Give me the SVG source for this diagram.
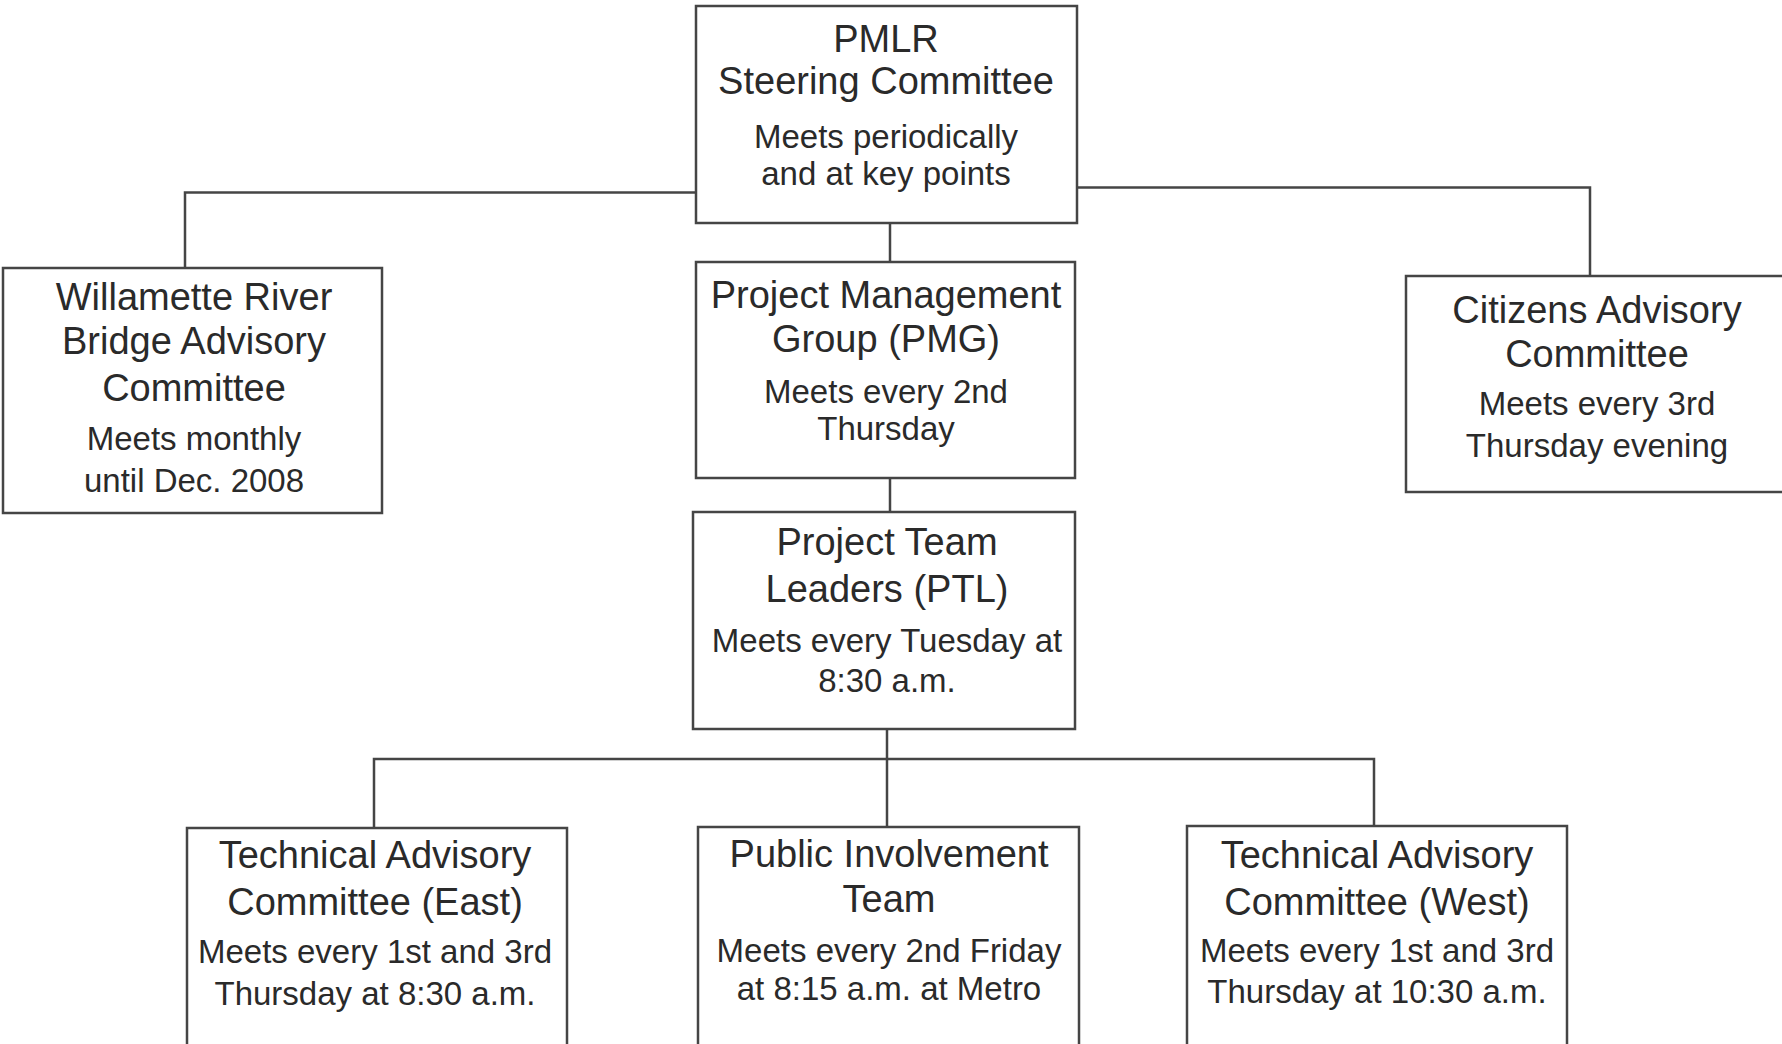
<svg xmlns="http://www.w3.org/2000/svg" width="1782" height="1044" viewBox="0 0 1782 1044">
  <style>
    .box { fill: #ffffff; stroke: #454545; stroke-width: 2.5; }
    .conn { fill: none; stroke: #454545; stroke-width: 2.5; }
    .t { font-family: "Liberation Sans", Arial, sans-serif; font-size: 38px; fill: #2a2a2a; text-anchor: middle; }
    .s { font-family: "Liberation Sans", Arial, sans-serif; font-size: 33px; fill: #2a2a2a; text-anchor: middle; }
  </style>
  <rect x="0" y="0" width="1782" height="1044" fill="#ffffff"/>
  <g id="connectors">
    <polyline class="conn" points="696,192.5 185,192.5 185,268"/>
    <polyline class="conn" points="1077,187.5 1590,187.5 1590,276"/>
    <line class="conn" x1="890" y1="223" x2="890" y2="262"/>
    <line class="conn" x1="890" y1="478" x2="890" y2="512"/>
    <line class="conn" x1="887" y1="729" x2="887" y2="827"/>
    <polyline class="conn" points="374,828 374,759 1374,759 1374,826"/>
  </g>
  <g id="steering">
    <rect class="box" x="696" y="6" width="381" height="217"/>
    <text class="t" x="886" y="52">PMLR</text>
    <text class="t" x="886" y="94">Steering Committee</text>
    <text class="s" x="886" y="148">Meets periodically</text>
    <text class="s" x="886" y="185">and at key points</text>
  </g>
  <g id="willamette">
    <rect class="box" x="3" y="268" width="379" height="245"/>
    <text class="t" x="194" y="310">Willamette River</text>
    <text class="t" x="194" y="354">Bridge Advisory</text>
    <text class="t" x="194" y="401">Committee</text>
    <text class="s" x="194" y="450">Meets monthly</text>
    <text class="s" x="194" y="492">until Dec. 2008</text>
  </g>
  <g id="citizens">
    <rect class="box" x="1406" y="276" width="380" height="216"/>
    <text class="t" x="1597" y="323">Citizens Advisory</text>
    <text class="t" x="1597" y="367">Committee</text>
    <text class="s" x="1597" y="415">Meets every 3rd</text>
    <text class="s" x="1597" y="457">Thursday evening</text>
  </g>
  <g id="pmg">
    <rect class="box" x="696" y="262" width="379" height="216"/>
    <text class="t" x="886" y="308">Project Management</text>
    <text class="t" x="886" y="352">Group (PMG)</text>
    <text class="s" x="886" y="403">Meets every 2nd</text>
    <text class="s" x="886" y="440">Thursday</text>
  </g>
  <g id="ptl">
    <rect class="box" x="693" y="512" width="382" height="217"/>
    <text class="t" x="887" y="555">Project Team</text>
    <text class="t" x="887" y="602">Leaders (PTL)</text>
    <text class="s" x="887" y="652">Meets every Tuesday at</text>
    <text class="s" x="887" y="692">8:30 a.m.</text>
  </g>
  <g id="tac-east">
    <rect class="box" x="187" y="828" width="380" height="230"/>
    <text class="t" x="375" y="868">Technical Advisory</text>
    <text class="t" x="375" y="915">Committee (East)</text>
    <text class="s" x="375" y="963">Meets every 1st and 3rd</text>
    <text class="s" x="375" y="1005">Thursday at 8:30 a.m.</text>
  </g>
  <g id="public-involvement">
    <rect class="box" x="698" y="827" width="381" height="230"/>
    <text class="t" x="889" y="867">Public Involvement</text>
    <text class="t" x="889" y="912">Team</text>
    <text class="s" x="889" y="962">Meets every 2nd Friday</text>
    <text class="s" x="889" y="1000">at 8:15 a.m. at Metro</text>
  </g>
  <g id="tac-west">
    <rect class="box" x="1187" y="826" width="380" height="230"/>
    <text class="t" x="1377" y="868">Technical Advisory</text>
    <text class="t" x="1377" y="915">Committee (West)</text>
    <text class="s" x="1377" y="962">Meets every 1st and 3rd</text>
    <text class="s" x="1377" y="1003">Thursday at 10:30 a.m.</text>
  </g>
</svg>
